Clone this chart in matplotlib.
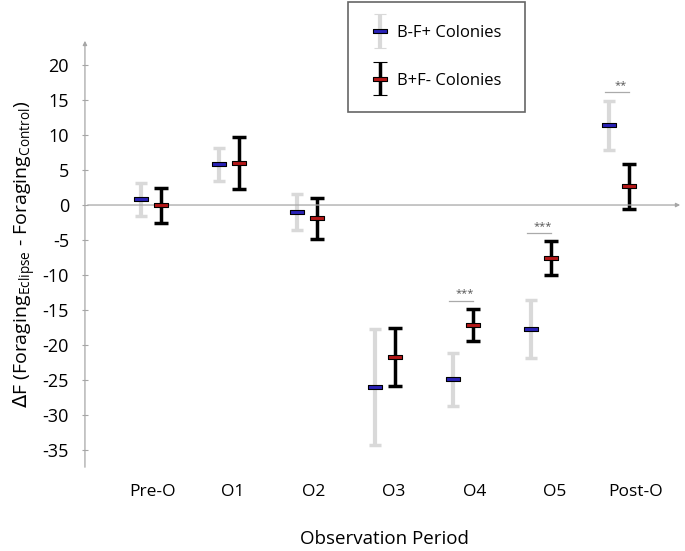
import numpy as np
import matplotlib.pyplot as plt
from matplotlib.legend_handler import HandlerErrorbar

plt.rcParams['font.family'] = ['Open Sans', 'DejaVu Sans']
plt.rcParams['axes.unicode_minus'] = False

# =====================================================
# Data
# =====================================================

periods = ['Pre-O', 'O1', 'O2', 'O3', 'O4', 'O5', 'Post-O']

bf_mean = [0.8, 5.8, -1.0, -26.0, -24.9, -17.7, 11.4]
bf_err = [2.4, 2.3, 2.6, 8.3, 3.8, 4.1, 3.5]

fb_mean = [0.0, 6.0, -1.9, -21.7, -17.1, -7.6, 2.7]
fb_err = [2.5, 3.7, 2.9, 4.1, 2.3, 2.4, 3.2]

# significance brackets: (period index, y level, stars)
sig = [(4, -13.7, '***'), (5, -4.0, '***'), (6, 16.1, '**')]

# =====================================================
# Plot
# =====================================================

fig = plt.figure(figsize=(6.85, 5.51), dpi=100)
ax = fig.add_axes([0.124, 0.147, 0.873, 0.784])

x = np.arange(len(periods))
off = 0.13

rect = [(-1, -0.33), (1, -0.33), (1, 0.33), (-1, 0.33), (-1, -0.33)]
blue = '#2a22b8'
red = '#b51818'

ax.errorbar(x - off, bf_mean, yerr=bf_err, fmt='none',
            ecolor='#d9d9d9', elinewidth=3, capsize=4.3, capthick=2.5,
            zorder=2)
ax.plot(x - off, bf_mean, ls='none', marker=rect, ms=10,
        mfc=blue, mec='black', mew=0.8, zorder=4)

ax.errorbar(x + off, fb_mean, yerr=fb_err, fmt='none',
            ecolor='black', elinewidth=2.5, capsize=5, capthick=2.5,
            zorder=2)
ax.plot(x + off, fb_mean, ls='none', marker=rect, ms=10,
        mfc=red, mec='black', mew=0.8, zorder=4)

for i, yv, stars in sig:
    ax.plot([i - off - 0.05, i + off], [yv, yv], color='#aaaaaa', lw=0.9)
    ax.text(i + 0.02, yv + 0.2, stars, ha='center', va='bottom',
            fontsize=8, color='#555555')

# axes lines with arrow heads
ax.annotate('', xy=(0, 1), xytext=(0, 0), xycoords='axes fraction',
            arrowprops=dict(arrowstyle='-|>', color='#a6a6a6', lw=0.9,
                            mutation_scale=6))
ax.annotate('', xy=(1, 0), xytext=(0, 0), xycoords=ax.get_yaxis_transform(),
            arrowprops=dict(arrowstyle='-|>', color='#a6a6a6', lw=0.9,
                            mutation_scale=6))

for s in ax.spines.values():
    s.set_visible(False)

ax.set_xlim(-0.846, 6.82)
ax.set_ylim(-37.86, 23.86)

ax.set_yticks(np.arange(-35, 21, 5))
ax.tick_params(axis='y', direction='inout', length=5, color='#a6a6a6',
               labelsize=13, pad=9)

ax.set_xticks(0.02 + 1.032 * x)
ax.set_xticklabels(periods)
ax.tick_params(axis='x', length=0, labelsize=12.5, pad=10)

ax.set_xlabel('Observation Period', fontsize=13.5, labelpad=22)
ax.set_ylabel(r'$\Delta$F (Foraging$_{\mathregular{Eclipse}}$ - '
              r'Foraging$_{\mathregular{Control}}$)', fontsize=14, labelpad=3)

# legend
leg_h1 = ax.errorbar([np.nan], [np.nan], yerr=[1], ls='none', marker=rect,
                     ms=10, mfc=blue, mec='black', mew=0.8,
                     ecolor='#d9d9d9', elinewidth=3, capsize=4.3,
                     capthick=2.5)
leg_h2 = ax.errorbar([np.nan], [np.nan], yerr=[1], ls='none', marker=rect,
                     ms=10, mfc=red, mec='black', mew=0.8,
                     ecolor='black', elinewidth=2.5, capsize=5, capthick=2.5)

leg = fig.legend([leg_h1, leg_h2], ['B-F+ Colonies', 'B+F- Colonies'],
                 loc='upper left', bbox_to_anchor=(0.508, 0.997),
                 fontsize=12, frameon=True, fancybox=False,
                 edgecolor='#404040', handlelength=1.0, handletextpad=0.55,
                 labelspacing=1.9, borderpad=1.4, borderaxespad=0,
                 handler_map={type(leg_h1): HandlerErrorbar(yerr_size=1.0)})
leg.get_frame().set_linewidth(1.2)

fig.savefig('out.png', dpi=100)
